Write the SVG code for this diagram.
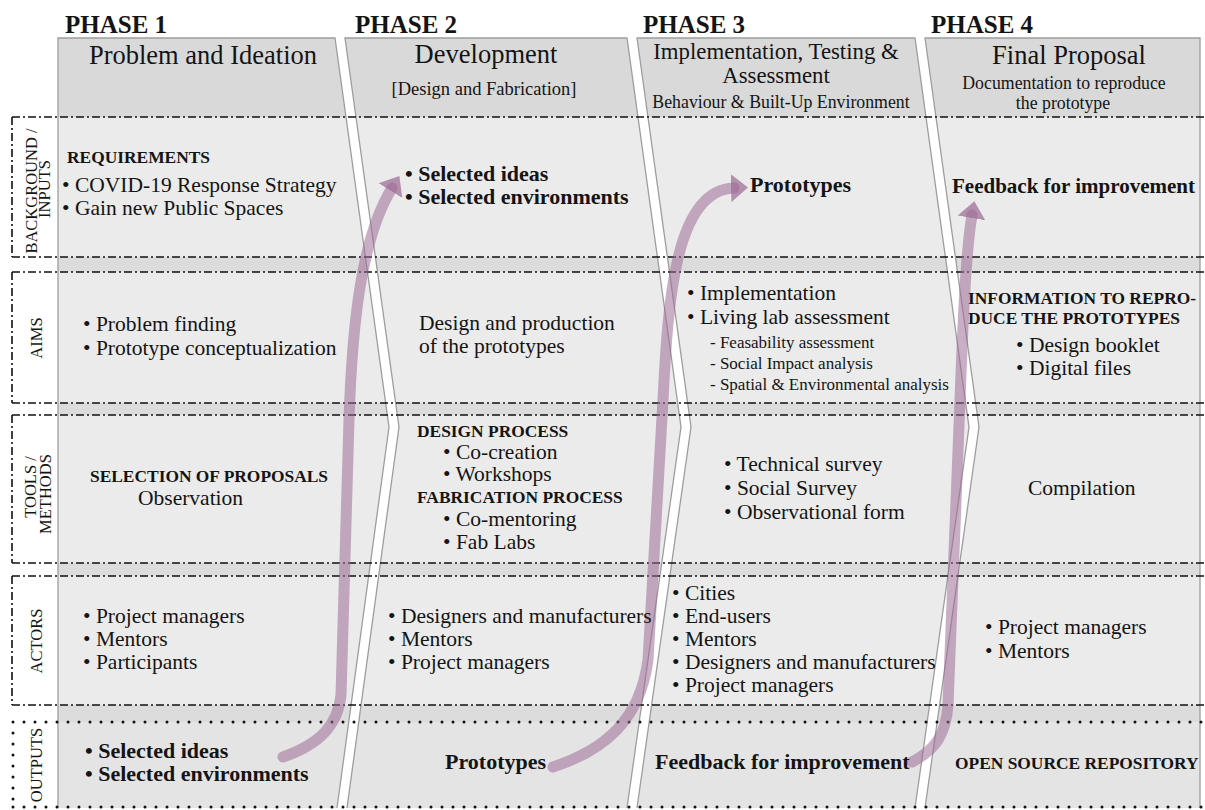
<svg xmlns="http://www.w3.org/2000/svg" width="1205" height="810" viewBox="0 0 1205 810">
<defs>
<style>
.t{font-family:"Liberation Serif","Times New Roman",serif;fill:#141414}
.ph{font-size:25px;font-weight:bold}
.ti{font-size:26.5px}
.ti3{font-size:22.8px}
.sub{font-size:18.5px}
.sub2{font-size:17.8px}
.sub3{font-size:17.8px}
.n{font-size:21.5px}
.bd{font-size:22px;font-weight:bold}
.bd2{font-size:21px;font-weight:bold}
.cap{font-size:17.4px;font-weight:bold}
.sm{font-size:17px}
.lbl{font-size:16.5px;text-anchor:middle}
.mid{text-anchor:middle}
.col{stroke:#9d9d9d;stroke-width:1.3;fill:none}
.dd{stroke:#111;stroke-width:1.6;stroke-dasharray:8 3 2 3;fill:none}
.dot{stroke:#111;stroke-width:3;stroke-linecap:round;stroke-dasharray:0 11;fill:none}
.arr{fill:none;stroke:#9c6b96;stroke-opacity:.55;stroke-width:11;stroke-linecap:round;marker-end:url(#ah)}
</style>
<clipPath id="cols">
<path d="M58,38 L335,38 L389,427 L337,808 L58,808 Z"/>
<path d="M345,38 L627,38 L681,427 L627,808 L347,808 L399,427 Z"/>
<path d="M637,38 L915,38 L969,427 L915,808 L637,808 L691,427 Z"/>
<path d="M925,38 L1200,38 L1200,808 L925,808 L979,427 Z"/>
</clipPath>
<marker id="ah" markerUnits="userSpaceOnUse" viewBox="0 0 20 30" markerWidth="20" markerHeight="30" refX="3" refY="15" orient="auto">
<path d="M0,1 L17,15 L0,29 Z" fill="#9c6b96" fill-opacity="0.72"/>
</marker>
</defs>
<rect width="1205" height="810" fill="#ffffff"/>

<g id="columns">
<g clip-path="url(#cols)">
<rect x="0" y="38" width="1205" height="79" fill="#d9d9d9"/>
<rect x="0" y="117" width="1205" height="140" fill="#ebebeb"/>
<rect x="0" y="257" width="1205" height="15" fill="#dcdcdc"/>
<rect x="0" y="272" width="1205" height="131" fill="#ebebeb"/>
<rect x="0" y="403" width="1205" height="12" fill="#dcdcdc"/>
<rect x="0" y="415" width="1205" height="148" fill="#ebebeb"/>
<rect x="0" y="563" width="1205" height="13" fill="#dcdcdc"/>
<rect x="0" y="576" width="1205" height="129" fill="#ebebeb"/>
<rect x="0" y="705" width="1205" height="17" fill="#dcdcdc"/>
<rect x="0" y="722" width="1205" height="88" fill="#e4e4e4"/>
</g>
<path id="col1" class="col" d="M58,808 L58,38 L335,38 L389,427 L337,808"/>
<path id="col2" class="col" d="M347,808 L399,427 L345,38 L627,38 L681,427 L627,808"/>
<path id="col3" class="col" d="M637,808 L691,427 L637,38 L915,38 L969,427 L915,808"/>
<path id="col4" class="col" d="M925,808 L979,427 L925,38 L1200,38 L1200,808"/>
</g>

<g id="row-lines">
<path class="dd" d="M12,117 H1205 M12,257 H1205 M12,272 H1205 M12,403 H1205 M12,415 H1205 M12,563 H1205 M12,576 H1205 M12,705 H1205"/>
<path class="dd" d="M12,117 V257 M12,272 V403 M12,415 V563 M12,576 V705"/>
<path class="dot" d="M13,722 H1205 M13,807 H1205 M13,722 V807"/>
</g>

<g id="row-labels">
<g id="label-inputs"><text class="t lbl" transform="translate(37,191) rotate(-90)">BACKGROUND /</text><text class="t lbl" transform="translate(50,189) rotate(-90)">INPUTS</text></g>
<g id="label-aims"><text class="t lbl" transform="translate(42,338) rotate(-90)">AIMS</text></g>
<g id="label-tools"><text class="t lbl" transform="translate(36,487) rotate(-90)">TOOLS /</text><text class="t lbl" transform="translate(51,494) rotate(-90)">METHODS</text></g>
<g id="label-actors"><text class="t lbl" transform="translate(42,641) rotate(-90)">ACTORS</text></g>
<g id="label-outputs"><text class="t lbl" transform="translate(42,765) rotate(-90)">OUTPUTS</text></g>
</g>

<g id="connectors">
<path id="arrow1" class="arr" d="M283,757 C320,744 338,725 341,695 L349,420 C352,330 360,240 392,188"/>
<path id="arrow2" class="arr" d="M553,767 C605,750 640,720 648,660 L663,400 C668,300 675,190 734,188"/>
<path id="arrow3" class="arr" d="M912,762 C935,750 946,735 948,705 L960,400 C963,320 966,250 972,215"/>
</g>

<g id="phase1">
<text class="t ph" x="65" y="33">PHASE 1</text>
<text class="t ti mid" x="203" y="64">Problem and Ideation</text>
<g id="p1-inputs">
<text class="t cap" x="67" y="163">REQUIREMENTS</text>
<text class="t n" x="62" y="192">• COVID-19 Response Strategy</text>
<text class="t n" x="62" y="215">• Gain new Public Spaces</text>
</g>
<g id="p1-aims">
<text class="t n" x="83" y="331">• Problem finding</text>
<text class="t n" x="83" y="355">• Prototype conceptualization</text>
</g>
<g id="p1-tools">
<text class="t cap" x="90" y="482">SELECTION OF PROPOSALS</text>
<text class="t n" x="138" y="505">Observation</text>
</g>
<g id="p1-actors">
<text class="t n" x="83" y="623">• Project managers</text>
<text class="t n" x="83" y="646">• Mentors</text>
<text class="t n" x="83" y="669">• Participants</text>
</g>
<g id="p1-outputs">
<text class="t bd" x="85" y="758">• Selected ideas</text>
<text class="t bd" x="85" y="781">• Selected environments</text>
</g>
</g>

<g id="phase2">
<text class="t ph" x="355" y="33">PHASE 2</text>
<text class="t ti mid" x="486" y="63">Development</text>
<text class="t sub mid" x="484" y="95">[Design and Fabrication]</text>
<g id="p2-inputs">
<text class="t bd" x="405" y="181">• Selected ideas</text>
<text class="t bd" x="405" y="204">• Selected environments</text>
</g>
<g id="p2-aims">
<text class="t n" x="419" y="330">Design and production</text>
<text class="t n" x="419" y="353">of the prototypes</text>
</g>
<g id="p2-tools">
<text class="t cap" x="417" y="437">DESIGN PROCESS</text>
<text class="t n" x="443" y="459">• Co-creation</text>
<text class="t n" x="443" y="481">• Workshops</text>
<text class="t cap" x="417" y="503">FABRICATION PROCESS</text>
<text class="t n" x="443" y="526">• Co-mentoring</text>
<text class="t n" x="443" y="549">• Fab Labs</text>
</g>
<g id="p2-actors">
<text class="t n" x="388" y="623">• Designers and manufacturers</text>
<text class="t n" x="388" y="646">• Mentors</text>
<text class="t n" x="388" y="669">• Project managers</text>
</g>
<g id="p2-outputs">
<text class="t bd" x="445" y="769">Prototypes</text>
</g>
</g>

<g id="phase3">
<text class="t ph" x="643" y="33">PHASE 3</text>
<text class="t ti3 mid" x="776" y="59">Implementation, Testing &amp;</text>
<text class="t ti3 mid" x="776" y="83">Assessment</text>
<text class="t sub2 mid" x="781" y="108">Behaviour &amp; Built-Up Environment</text>
<g id="p3-inputs">
<text class="t bd" x="750" y="192">Prototypes</text>
</g>
<g id="p3-aims">
<text class="t n" x="687" y="300">• Implementation</text>
<text class="t n" x="687" y="324">• Living lab assessment</text>
<text class="t sm" x="710" y="348">- Feasability assessment</text>
<text class="t sm" x="710" y="369">- Social Impact analysis</text>
<text class="t sm" x="710" y="390">- Spatial &amp; Environmental analysis</text>
</g>
<g id="p3-tools">
<text class="t n" x="724" y="471">• Technical survey</text>
<text class="t n" x="724" y="495">• Social Survey</text>
<text class="t n" x="724" y="519">• Observational form</text>
</g>
<g id="p3-actors">
<text class="t n" x="672" y="600">• Cities</text>
<text class="t n" x="672" y="623">• End-users</text>
<text class="t n" x="672" y="646">• Mentors</text>
<text class="t n" x="672" y="669">• Designers and manufacturers</text>
<text class="t n" x="672" y="692">• Project managers</text>
</g>
<g id="p3-outputs">
<text class="t bd" x="655" y="769">Feedback for improvement</text>
</g>
</g>

<g id="phase4">
<text class="t ph" x="931" y="33">PHASE 4</text>
<text class="t ti mid" x="1069" y="64">Final Proposal</text>
<text class="t sub3 mid" x="1064" y="89">Documentation to reproduce</text>
<text class="t sub3 mid" x="1063" y="109">the prototype</text>
<g id="p4-inputs">
<text class="t bd2" x="952" y="193">Feedback for improvement</text>
</g>
<g id="p4-aims">
<text class="t cap" x="968" y="304">INFORMATION TO REPRO-</text>
<text class="t cap" x="968" y="324">DUCE THE PROTOTYPES</text>
<text class="t n" x="1016" y="352">• Design booklet</text>
<text class="t n" x="1016" y="375">• Digital files</text>
</g>
<g id="p4-tools">
<text class="t n" x="1028" y="495">Compilation</text>
</g>
<g id="p4-actors">
<text class="t n" x="985" y="634">• Project managers</text>
<text class="t n" x="985" y="658">• Mentors</text>
</g>
<g id="p4-outputs">
<text class="t cap" x="955" y="769">OPEN SOURCE REPOSITORY</text>
</g>
</g>
</svg>
